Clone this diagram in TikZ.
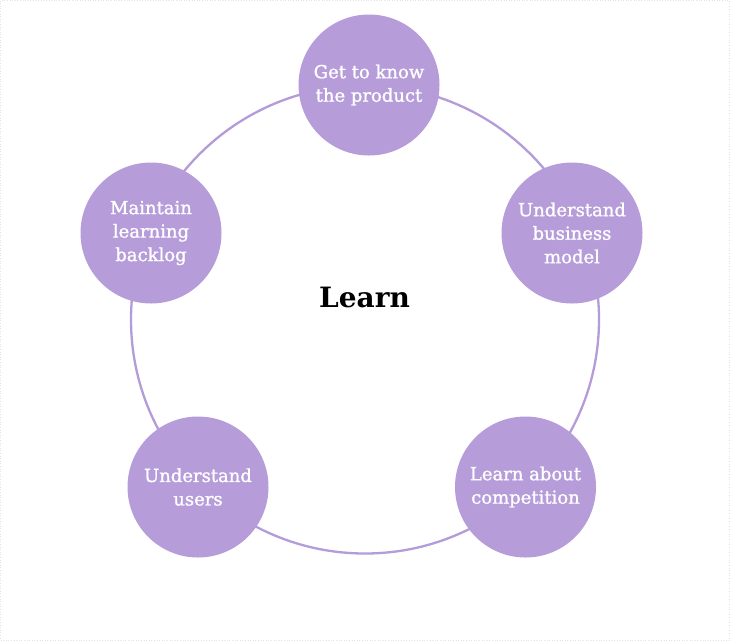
\documentclass[tikz,border=0pt]{standalone}
\usepackage{fontspec}
\setmainfont{DejaVu Serif}
\newfontfamily\labfont[FakeBold=1.2]{DejaVu Serif}
\definecolor{lav}{HTML}{B69DDA}
\definecolor{ring}{HTML}{B49BD9}
\definecolor{edge}{HTML}{E2E2EA}
\begin{document}
\begin{tikzpicture}[x=1pt,y=1pt,
  topic/.style={circle,fill=lav,minimum size=141pt,inner sep=0pt,text=white,
    align=center,font=\labfont\fontsize{18}{23.5}\selectfont},
  title/.style={font=\fontsize{28}{34}\selectfont\bfseries,text=black}]
\useasboundingbox (0,0) rectangle (730,-641);
\draw[edge,dotted,line width=0.6pt] (0.5,-0.5) rectangle (729.5,-640);
\node[circle,draw=ring,line width=2.3pt,minimum size=468pt,inner sep=0pt] (ringc) at (365,-319.5) {};
\node[topic] (know) at (369,-85) {Get to know\\the product};
\node[topic] (biz) at (572,-233) {Understand\\business\\model};
\node[topic] (comp) at (525.5,-487) {Learn about\\competition};
\node[topic] (users) at (198,-487) {Understand\\users};
\node[topic] (back) at (151,-233) {Maintain\\learning\\backlog};
\node[title,anchor=base] (learn) at (364.5,-307) {Learn};
\end{tikzpicture}
\end{document}
